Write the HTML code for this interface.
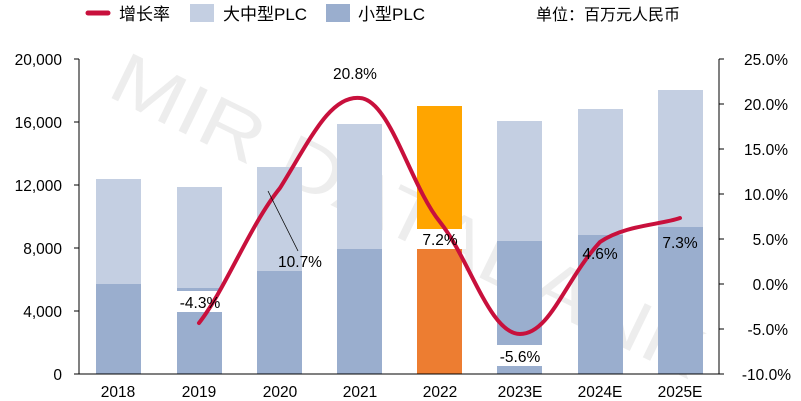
<!DOCTYPE html>
<html><head><meta charset="utf-8"><style>html,body{margin:0;background:#fff;width:801px;height:401px;overflow:hidden}svg{display:block}text{font-family:"Liberation Sans","Noto Sans CJK SC",sans-serif}</style></head>
<body>
<svg width="801" height="401" viewBox="0 0 801 401" xmlns="http://www.w3.org/2000/svg">
<rect width="801" height="401" fill="#fff"/>
<!-- legend -->
<line x1="88" y1="13" x2="108" y2="13" stroke="#C8103C" stroke-width="5" stroke-linecap="round"/>
<text x="119" y="20" font-size="17" fill="#000">增长率</text>
<rect x="190" y="4" width="24" height="18" fill="#C4CFE2"/>
<text x="223" y="20" font-size="17">大中型PLC</text>
<rect x="326" y="4" width="24" height="18" fill="#9AAECE"/>
<text x="358" y="20" font-size="17">小型PLC</text>
<text x="536" y="20" font-size="16">单位：百万元人民币</text>
<!-- watermark -->
<text x="105" y="95" font-size="72" fill="#000" fill-opacity="0.07" transform="rotate(26 105 95)" textLength="650" lengthAdjust="spacingAndGlyphs">MIR DATABANK</text>
<!-- bars -->
<g>
<rect x="96" y="179" width="45" height="195" fill="#C4CFE2"/><rect x="96" y="284" width="45" height="90" fill="#9AAECE"/>
<rect x="177" y="187" width="45" height="187" fill="#C4CFE2"/><rect x="177" y="288" width="45" height="86" fill="#9AAECE"/>
<rect x="257" y="167" width="45" height="207" fill="#C4CFE2"/><rect x="257" y="271" width="45" height="103" fill="#9AAECE"/>
<rect x="337" y="124" width="45" height="250" fill="#C4CFE2"/><rect x="337" y="249" width="45" height="125" fill="#9AAECE"/>
<rect x="417" y="106" width="45" height="268" fill="#FFA500"/><rect x="417" y="249" width="45" height="125" fill="#ED7D31"/>
<rect x="497" y="121" width="45" height="253" fill="#C4CFE2"/><rect x="497" y="241" width="45" height="133" fill="#9AAECE"/>
<rect x="578" y="109" width="45" height="265" fill="#C4CFE2"/><rect x="578" y="235" width="45" height="139" fill="#9AAECE"/>
<rect x="658" y="90" width="45" height="284" fill="#C4CFE2"/><rect x="658" y="227" width="45" height="147" fill="#9AAECE"/>
</g>
<!-- label boxes -->
<rect x="174" y="291" width="52" height="21" fill="#fff"/>
<rect x="413" y="229" width="53" height="20" fill="#fff"/>
<rect x="493" y="345" width="53" height="21" fill="#fff"/>
<!-- line -->
<path d="M199,323 C225,290 250,225 280,188 C310,140 330,95 360,98 C390,100 410,185 440,222 C470,260 490,334 520,334 C550,334 565,280 600,242 C625,225 660,225 680,218" fill="none" stroke="#C8103C" stroke-width="4" stroke-linecap="round"/>
<line x1="268" y1="191" x2="298" y2="251" stroke="#000" stroke-width="0.8"/>
<!-- labels -->
<g font-size="15.5" text-anchor="middle">
<text x="200" y="308">-4.3%</text>
<text x="300" y="267">10.7%</text>
<text x="355" y="79">20.8%</text>
<text x="440" y="245">7.2%</text>
<text x="520" y="362">-5.6%</text>
<text x="600" y="259">4.6%</text>
<text x="680" y="248">7.3%</text>
</g>
<!-- axes -->
<line x1="79" y1="59" x2="79" y2="374" stroke="#000"/>
<line x1="79" y1="374" x2="719" y2="374" stroke="#000"/>
<line x1="719" y1="59" x2="719" y2="374" stroke="#000"/>
<g stroke="#000">
<line x1="74" y1="59" x2="79" y2="59"/><line x1="74" y1="122" x2="79" y2="122"/><line x1="74" y1="185" x2="79" y2="185"/><line x1="74" y1="248" x2="79" y2="248"/><line x1="74" y1="311" x2="79" y2="311"/><line x1="74" y1="374" x2="79" y2="374"/>
<line x1="719" y1="59" x2="724" y2="59"/><line x1="719" y1="104" x2="724" y2="104"/><line x1="719" y1="149" x2="724" y2="149"/><line x1="719" y1="194" x2="724" y2="194"/><line x1="719" y1="239" x2="724" y2="239"/><line x1="719" y1="284" x2="724" y2="284"/><line x1="719" y1="329" x2="724" y2="329"/><line x1="719" y1="374" x2="724" y2="374"/>
</g>
<g font-size="15.5" text-anchor="end">
<text x="62" y="65">20,000</text><text x="62" y="128">16,000</text><text x="62" y="191">12,000</text><text x="62" y="254">8,000</text><text x="62" y="317">4,000</text><text x="62" y="380">0</text>
</g>
<g font-size="15.5" text-anchor="end">
<text x="788" y="65">25.0%</text><text x="788" y="110">20.0%</text><text x="788" y="155">15.0%</text><text x="788" y="200">10.0%</text><text x="788" y="245">5.0%</text><text x="788" y="290">0.0%</text><text x="788" y="335">-5.0%</text><text x="791" y="380">-10.0%</text>
</g>
<g font-size="15.5" text-anchor="middle">
<text x="118" y="397">2018</text><text x="199" y="397">2019</text><text x="280" y="397">2020</text><text x="360" y="397">2021</text><text x="440" y="397">2022</text><text x="520" y="397">2023E</text><text x="600" y="397">2024E</text><text x="680" y="397">2025E</text>
</g>
</svg>
</body></html>
